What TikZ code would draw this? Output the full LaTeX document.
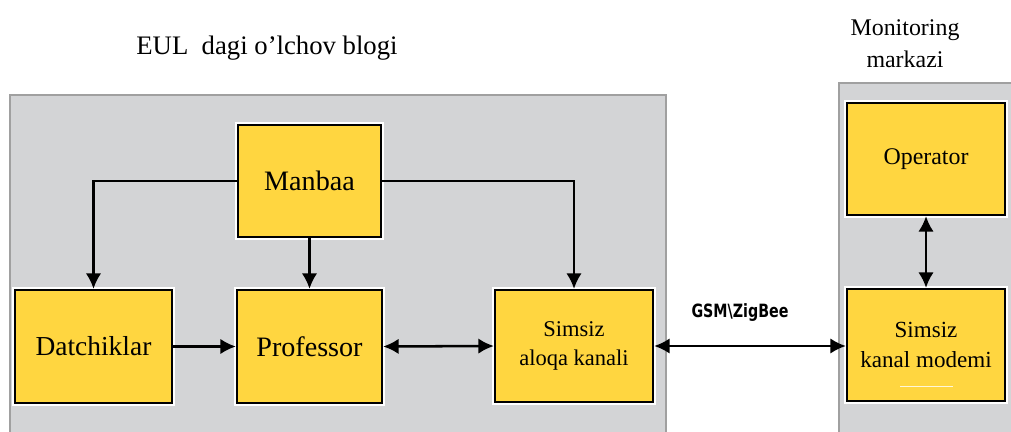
\documentclass[tikz,border=0pt]{standalone}
\usepackage{fontspec}
\setmainfont{Liberation Serif}
\newfontfamily\gsmfont[FakeStretch=0.78]{DejaVu Sans}
\usetikzlibrary{positioning}
\usetikzlibrary{arrows.meta,calc}
\definecolor{blokyellow}{RGB}{255,214,64}
\definecolor{panelgray}{RGB}{211,212,214}
\definecolor{panelline}{RGB}{160,160,160}

\tikzset{
  blok/.style={draw=black, line width=1.6pt, fill=blokyellow, align=center,
    preaction={draw=white, line width=4.5pt}, inner sep=2pt},
  panel/.style={fill=panelgray, draw=panelline, line width=1.2pt},
  strelka/.style={black, line width=1.8pt, -{Latex[length=11pt,width=11pt]}},
  ikki/.style={strelka, {Latex[length=11pt,width=11pt]}-{Latex[length=11pt,width=11pt]}},
  sarlavha/.style={align=center, font=\fontsize{17}{22.6}\selectfont}
}

\begin{document}
\begin{tikzpicture}[x=0.025cm, y=-0.025cm]
     \useasboundingbox (0,0) rectangle (1011,432);
     % panels
     \draw [panel] (10,95) rectangle (666,440);
     \draw [panel] (839,83) rectangle (1020,440);

     \node [sarlavha, font=\fontsize{19}{22}\selectfont] (eul) at (267,48) {EUL\ \ dagi o’lchov blogi};
     \node [sarlavha] (markaz) at (905,44) {Monitoring\\markazi};

     % blocks of the measuring unit
     \node [blok, minimum width=3.575cm, minimum height=2.8cm, font=\fontsize{20}{24}\selectfont] (manbaa) at (309.5,181) {Manbaa};
     \node [blok, minimum width=3.925cm, minimum height=2.825cm, font=\fontsize{19.5}{24}\selectfont] (datch) at (93.5,346.5) {Datchiklar};
     \node [blok, minimum width=3.625cm, minimum height=2.825cm, font=\fontsize{20}{24}\selectfont] (prof) at (309.5,346.5) {Professor};
     \node [blok, minimum width=3.95cm, minimum height=2.8cm, font=\fontsize{16}{20}\selectfont] (aloqa) at (574,346) {Simsiz\\aloqa kanali};

     % monitoring centre
     \node [blok, minimum width=3.95cm, minimum height=2.8cm, font=\fontsize{17}{21}\selectfont] (operator) at (926,159) {Operator};
     \node [blok, minimum width=3.95cm, minimum height=2.8cm, font=\fontsize{16.4}{21}\selectfont] (modem) at (926,345) {Simsiz\\kanal modemi};
     \draw [white!80!blokyellow, line width=0.8pt] ($(modem.south)+(-26,-16)$) -- ($(modem.south)+(27,-16)$);

     % connectors
     \draw [strelka] (manbaa.west) -| (datch.north);
     \draw [strelka] (manbaa.south) -- (prof.north);
     \draw [strelka] (manbaa.east) -| (aloqa.north);
     \draw [strelka] (datch.east) -- (prof.west);
     \draw [ikki] (prof.east) -- (aloqa.west);
     \draw [ikki] (aloqa.east) -- (aloqa.east -| modem.west);
     \draw [ikki] (operator.south) -- (modem.north);

     \node [font=\gsmfont\bfseries\fontsize{13}{15}\selectfont] (gsm) at (740,313) {GSM\textbackslash ZigBee};
\end{tikzpicture}
\end{document}
